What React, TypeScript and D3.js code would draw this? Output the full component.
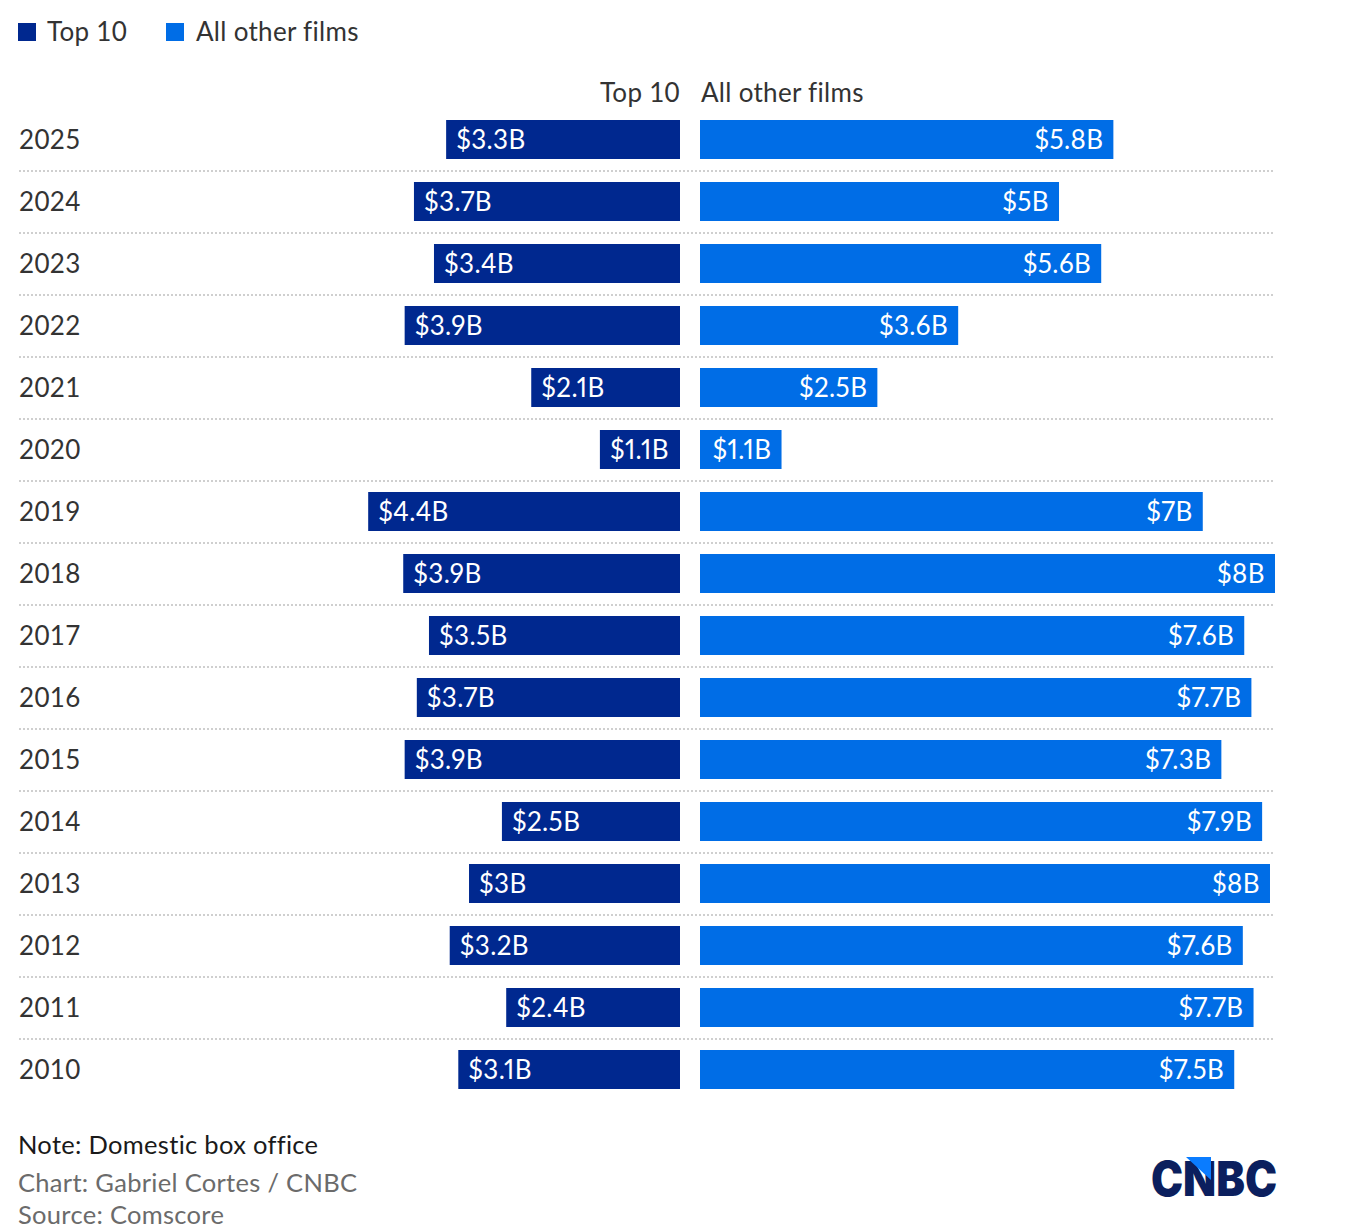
import * as d3 from "d3";

// Domestic box office, billions of dollars
const years = ["2025", "2024", "2023", "2022", "2021", "2020", "2019", "2018", "2017", "2016", "2015", "2014", "2013", "2012", "2011", "2010"];
const top10 = [3.27, 3.72, 3.44, 3.85, 2.08, 1.12, 4.36, 3.87, 3.51, 3.68, 3.85, 2.49, 2.95, 3.22, 2.43, 3.1];
const otherFilms = [5.78, 5.02, 5.61, 3.61, 2.48, 1.14, 7.03, 8.04, 7.61, 7.71, 7.29, 7.86, 7.97, 7.59, 7.74, 7.47];
const seriesNames = ["Top 10", "All other films"];

const NAVY = "#00288f";
const BLUE = "#006de6";
const FONT = "Lato, 'Noto Sans', sans-serif";
const FS = 26;
const LS = 0.3;

const fmt = (v: number) => "$" + d3.format(".1f")(v).replace(/\.0$/, "") + "B";

export default function App() {
  const width = 1372;
  const height = 1232;
  const mid = { left: 680, right: 700 };
  const maxV = d3.max(otherFilms)!;
  const pxPerB = 575 / maxV;

  const xRight = d3.scaleLinear().domain([0, maxV]).range([mid.right, mid.right + maxV * pxPerB]);
  const xLeft = d3.scaleLinear().domain([0, maxV]).range([mid.left, mid.left - maxV * pxPerB]);

  const y = d3.scaleBand<string>()
    .domain(years)
    .range([120, 120 + 15 * 62 + 39])
    .paddingInner(23 / 62)
    .paddingOuter(0);
  const bh = y.bandwidth();

  const labelStyle = { letterSpacing: 0.4, fontVariantNumeric: "proportional-nums" as const };

  return (
    <svg width={width} height={height} style={{ display: "block", margin: "-8px", fontFamily: FONT, letterSpacing: LS }}>
      <rect width={width} height={height} fill="#fff" />

      {/* legend */}
      <g fontSize={FS} fill="#333">
        <rect x={18} y={23} width={18} height={18} fill={NAVY} />
        <text x={47} y={41}>{seriesNames[0]}</text>
        <rect x={166} y={23} width={18} height={18} fill={BLUE} />
        <text x={196} y={41}>{seriesNames[1]}</text>
      </g>

      {/* column headers */}
      <g fontSize={FS} fill="#333">
        <text x={mid.left} y={102} textAnchor="end">{seriesNames[0]}</text>
        <text x={mid.right + 1} y={102}>{seriesNames[1]}</text>
      </g>

      {years.map((yr, i) => {
        const y0 = y(yr)!;
        const cy = y0 + bh / 2;
        return (
          <g key={yr}>
            <text x={19} y={cy} dy="0.36em" fontSize={FS} fill="#333">{yr}</text>
            <rect x={xLeft(top10[i])} y={y0} width={mid.left - xLeft(top10[i])} height={bh} fill={NAVY} />
            <text x={xLeft(top10[i]) + 10} y={cy} dy="0.36em" fontSize={FS} fill="#fff" style={labelStyle}>{fmt(top10[i])}</text>
            <rect x={mid.right} y={y0} width={xRight(otherFilms[i]) - mid.right} height={bh} fill={BLUE} />
            <text x={xRight(otherFilms[i]) - 10} y={cy} dy="0.36em" fontSize={FS} fill="#fff" textAnchor="end" style={labelStyle}>{fmt(otherFilms[i])}</text>
            {i < years.length - 1 && (
              <line x1={19} x2={1275} y1={y0 + bh + 12} y2={y0 + bh + 12} stroke="#cfcfcf" strokeWidth={2} strokeDasharray="2 2" />
            )}
          </g>
        );
      })}

      {/* footer */}
      <g fontSize={25.5}>
        <text x={18} y={1154} fill="#1a1a1a">Note: Domestic box office</text>
        <text x={18} y={1192} fill="#6b6b6b">Chart: Gabriel Cortes / CNBC</text>
        <text x={18} y={1224} fill="#6b6b6b">Source: Comscore</text>
      </g>

      {/* logo */}
      <g>
        <text x={1151} y={1196} fontSize={48} fontWeight={900} fill="#0b1f5e" fontFamily="Inter, Lato, sans-serif" textLength={126} lengthAdjust="spacingAndGlyphs" style={{ letterSpacing: 0 }}>CNBC</text>
        <path d="M1186,1157 L1211,1157 L1211,1180 Z" fill="#0a7cff" />
      </g>
    </svg>
  );
}
